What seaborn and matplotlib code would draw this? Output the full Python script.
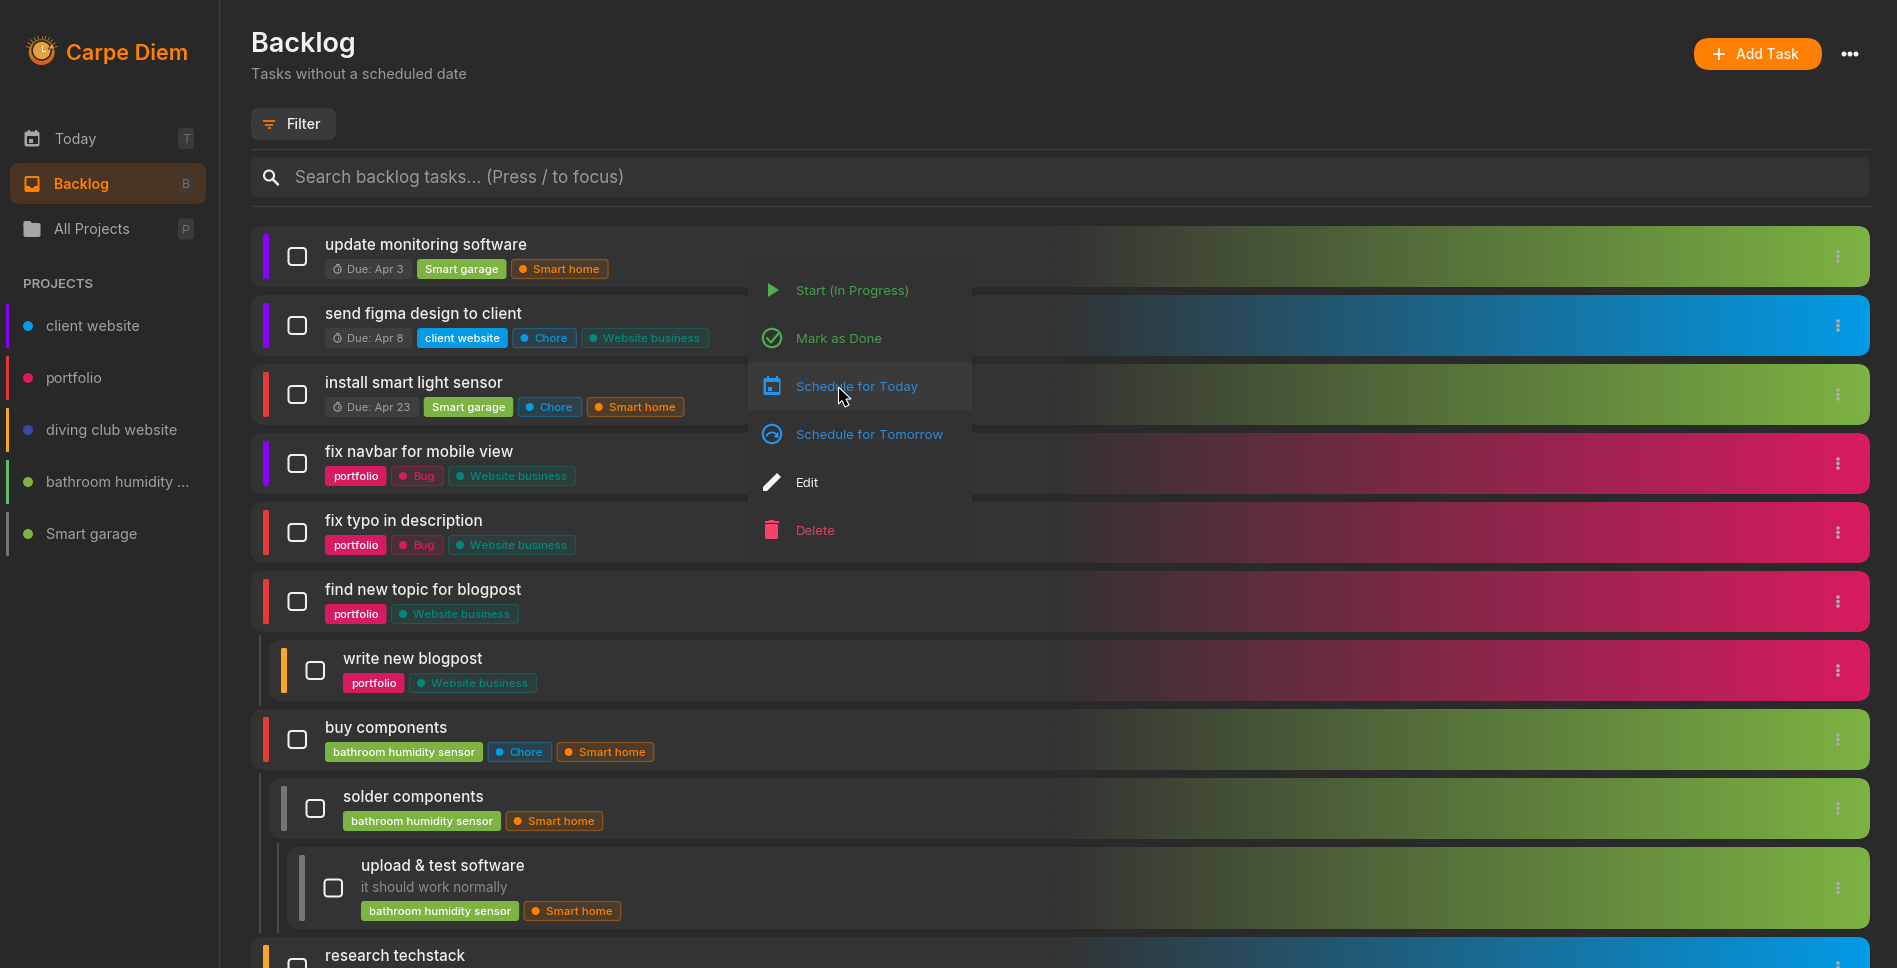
import matplotlib
matplotlib.use("Agg")
import matplotlib.pyplot as plt
import seaborn as sns
import pandas as pd
import numpy as np
from matplotlib.colors import to_rgba
from matplotlib.patches import FancyBboxPatch, Polygon, Circle, Rectangle, Arc

# ---- data ----
nav_labels = ["Today", "Backlog", "All Projects"]
nav_keys = ["T", "B", "P"]
project_names = ["client website", "portfolio", "diving club website", "bathroom humidity ...", "Smart garage"]
project_stripes = ["#8a00ff", "#e53935", "#f9a825", "#66bb6a", "#757575"]
project_dots = ["#039be5", "#d81b60", "#3949ab", "#7cb342", "#7cb342"]

task_titles = ["update monitoring software", "send figma design to client", "install smart light sensor",
               "fix navbar for mobile view", "fix typo in description", "find new topic for blogpost",
               "write new blogpost", "buy components", "solder components", "upload & test software",
               "research techstack"]
task_levels = [0, 0, 0, 0, 0, 0, 1, 0, 1, 2, 0]
task_priority = ["#8a00ff", "#8a00ff", "#e53935", "#8a00ff", "#e53935", "#e53935", "#f9a825",
                 "#e53935", "#757575", "#757575", "#f9a825"]
task_due = ["Due: Apr 3", "Due: Apr 8", "Due: Apr 23", None, None, None, None, None, None, None, None]
task_projects = ["Smart garage", "client website", "Smart garage", "portfolio", "portfolio", "portfolio",
                 "portfolio", "bathroom humidity sensor", "bathroom humidity sensor",
                 "bathroom humidity sensor", "client website"]
task_tags = [["Smart home"], ["Chore", "Website business"], ["Chore", "Smart home"],
             ["Bug", "Website business"], ["Bug", "Website business"], ["Website business"],
             ["Website business"], ["Chore", "Smart home"], ["Smart home"], ["Smart home"], []]
task_notes = [None] * 9 + ["it should work normally", None]

project_colors = {"Smart garage": "#7cb342", "bathroom humidity sensor": "#7cb342",
                  "client website": "#039be5", "portfolio": "#d81b60"}
tag_colors = {"Smart home": "#ff7f00", "Chore": "#039be5", "Bug": "#d81b60", "Website business": "#00897b"}

menu_labels = ["Start (In Progress)", "Mark as Done", "Schedule for Today", "Schedule for Tomorrow", "Edit", "Delete"]
menu_colors = ["#43a047", "#43a047", "#2a8ae0", "#2a8ae0", "#eeeeee", "#e0405f"]
menu_icons = ["#4caf50", "#4caf50", "#2196f3", "#2196f3", "#f5f5f5", "#f44366"]

PAGE = "#2a2a2a"
SIDE = "#282828"
ROW = "#333333"
LINE = "#3c3c3c"
ORANGE = "#ff7f00"

sns.set_theme(style="dark", rc={"figure.facecolor": PAGE, "axes.facecolor": PAGE})
plt.rcParams["font.family"] = ["Inter", "DejaVu Sans"]

fig = plt.figure(figsize=(18.97, 9.68), dpi=100)
ax = fig.add_axes([0, 0, 1, 1])
ax.set_xlim(0, 1897)
ax.set_ylim(968, 0)
ax.axis("off")
renderer = fig.canvas.get_renderer()
dots = []


def box(x0, y0, x1, y1, r, fc, ec="none", lw=0.0, z=2):
    p = FancyBboxPatch((x0, y0), x1 - x0, y1 - y0, boxstyle=f"round,pad=0,rounding_size={r}",
                       fc=fc, ec=ec, lw=lw, zorder=z)
    ax.add_patch(p)
    return p


def label(x, yc, s, px, color, weight="normal", ha="left", z=5):
    # same baseline a browser would use for a line centred on yc
    return ax.text(x, yc + 0.36 * px, s, fontsize=px * 0.72, color=color, fontweight=weight,
                   ha=ha, va="baseline", zorder=z)


def width(t):
    return t.get_window_extent(renderer).width


def calendar(cx, cy, c, bg, w=15, h=16, z=6):
    box(cx - w / 2, cy - h / 2 + 1, cx + w / 2, cy + h / 2, 2, c, z=z)
    ax.add_patch(Rectangle((cx - w / 2 + 2, cy - h / 2 + 5), w - 4, h - 8, fc=bg, ec="none", zorder=z))
    ax.add_patch(Rectangle((cx - w / 2 + 3, cy - h / 2 - 1), 2, 3, fc=c, ec="none", zorder=z))
    ax.add_patch(Rectangle((cx + w / 2 - 5, cy - h / 2 - 1), 2, 3, fc=c, ec="none", zorder=z))
    ax.add_patch(Rectangle((cx - w / 2 + 4, cy + 0.5), 4, 4, fc=c, ec="none", zorder=z))


# ---- sidebar ----
ax.add_patch(Rectangle((0, 0), 218, 968, fc=SIDE, ec="none", zorder=1))
ax.plot([218.5, 218.5], [0, 968], color=LINE, lw=1, zorder=2)

# logo: rays, orange disc fading down, dark ring, clock face and arrow
for a in np.radians(np.arange(200, 345, 14)):
    ax.plot([41.7 + 13 * np.cos(a), 41.7 + 16.5 * np.cos(a)],
            [52 + 13 * np.sin(a), 52 + 16.5 * np.sin(a)], color="#9a7a3c", lw=0.7, zorder=3)
disc = Circle((41.7, 52), 13, fc="none", ec="none", zorder=3)
ax.add_patch(disc)
logo_fade = sns.blend_palette(["#8a5a20", "#c97a24", "#d9581e"], as_cmap=True)
im = ax.imshow(np.linspace(0, 1, 60).reshape(-1, 1), cmap=logo_fade, extent=(28, 56, 66, 38),
               aspect="auto", zorder=3, interpolation="bilinear")
im.set_clip_path(disc)
ax.add_patch(Circle((41.7, 50.5), 9.5, fc="#e6a044", ec="#33251a", lw=1.1, zorder=4))
ax.plot([41.7, 41.7, 45], [45.5, 51, 51], color="#fff0d0", lw=0.7, zorder=4)
ax.add_patch(Polygon([(48, 49), (55, 49), (52, 43)], fc="#eea040", ec="#33251a", lw=0.5, zorder=4))
label(66, 52, "Carpe Diem", 21.6, ORANGE, weight=600)

nav_y = [138.5, 184, 229]
box(10, 163, 206, 204, 9, "#4a3524")
for name, key, y in zip(nav_labels, nav_keys, nav_y):
    c = ORANGE if name == "Backlog" else "#a6a6a6"
    label(54, y, name, 14.2, c, weight=600 if name == "Backlog" else "normal")
    badge_c = "#44382e" if name == "Backlog" else "#3a3a3a"
    box(178, y - 10.5, 194, y + 10.5, 3, badge_c)
    label(186, y, key, 12.5, "#6e6e6e", ha="center")
calendar(32, nav_y[0], "#a6a6a6", SIDE)
# inbox icon
box(24.5, nav_y[1] - 8, 39.5, nav_y[1] + 8, 2, ORANGE, z=6)
ax.add_patch(Polygon([(26.5, nav_y[1] - 6), (37.5, nav_y[1] - 6), (37.5, nav_y[1] + 2), (34.5, nav_y[1] + 2),
                      (33, nav_y[1] + 4), (31, nav_y[1] + 4), (29.5, nav_y[1] + 2), (26.5, nav_y[1] + 2)],
                     fc="#4a3524", ec="none", zorder=6))
# folder icon
box(23.5, nav_y[2] - 6, 40.5, nav_y[2] + 8, 2, "#a6a6a6", z=6)
box(23.5, nav_y[2] - 8, 31.5, nav_y[2] - 2, 2, "#a6a6a6", z=6)

label(22.5, 283, "PROJECTS", 13.3, "#a0a0a0", weight=600)
for i, (name, st, dc) in enumerate(zip(project_names, project_stripes, project_dots)):
    y = 326 + i * 52
    box(6, y - 22, 9, y + 22, 1, st)
    label(46, y, name, 14.35, "#a0a0a0")
    dots.append((28, y, dc, 10))

# ---- header ----
label(251, 42, "Backlog", 27, "#f2f2f2", weight=600)
label(251, 74, "Tasks without a scheduled date", 14.4, "#9a9a9a")
box(1694, 38, 1822, 70, 16, ORANGE)
ax.plot([1713, 1725], [54, 54], color="#f5f5f5", lw=1.3, zorder=5, solid_capstyle="butt")
ax.plot([1719, 1719], [48, 60], color="#f5f5f5", lw=1.3, zorder=5, solid_capstyle="butt")
label(1736, 54, "Add Task", 13.9, "#f5f5f5", weight=500)
for x in [1844, 1850, 1856]:
    dots.append((x, 54, "#f2f2f2", 5))

box(251, 108, 336, 140, 8, "#3a3a3a")
for wd, yy in zip([12, 8, 3], [120.5, 124.5, 128]):
    ax.plot([269 - wd / 2, 269 + wd / 2], [yy, yy], color=ORANGE, lw=1.2, zorder=5, solid_capstyle="butt")
label(287, 124, "Filter", 14.4, "#eeeeee", weight=500)
ax.plot([251, 1870], [148.5, 148.5], color=LINE, lw=1, zorder=2)
box(251, 157, 1870, 197, 8, ROW)
ax.add_patch(Circle((269, 175.5), 5, fc="none", ec="#eeeeee", lw=1.5, zorder=5))
ax.plot([272.5, 278], [179, 184.5], color="#eeeeee", lw=1.8, zorder=5)
label(295, 177, "Search backlog tasks... (Press / to focus)", 16.95, "#999999")
ax.plot([251, 1870], [205.5, 205.5], color=LINE, lw=1, zorder=2)


# ---- task rows ----
def draw_tags(x, yc, due, project, tags):
    h = 10
    if due:
        t = label(x + 22, yc, due, 11.2, "#a0a0a0")
        x1 = x + 22 + width(t) + 9
        box(x, yc - h, x1, yc + h, 4, "#3e3e3e", z=3)
        ax.add_patch(Circle((x + 12.5, yc + 0.5), 3.6, fc="none", ec="#999999", lw=0.9, zorder=5))
        ax.plot([x + 12.5, x + 12.5], [yc - 1.5, yc + 0.5], color="#999999", lw=0.8, zorder=5)
        ax.plot([x + 11, x + 14], [yc - 4.8, yc - 4.8], color="#999999", lw=0.8, zorder=5)
        x = x1 + 4.5
    t = label(x + 8, yc, project, 11.35, "#ffffff", weight=500)
    x1 = x + 8 + width(t) + 8
    box(x, yc - h, x1, yc + h, 3, project_colors[project], z=3)
    x = x1 + 4.5
    for tag in tags:
        c = tag_colors[tag]
        t = label(x + 22, yc, tag, 11.45, c, weight=500)
        x1 = x + 22 + width(t) + 9
        box(x + 0.5, yc - h + 0.5, x1 - 0.5, yc + h - 0.5, 3, to_rgba(c, 0.12), ec=to_rgba(c, 0.4), lw=0.9, z=3)
        dots.append((x + 12, yc, c, 8))
        x = x1 + 4.5


top = 226
for i, title in enumerate(task_titles):
    lvl = task_levels[i]
    note = task_notes[i]
    hgt = 82 if note else 61
    left = 251 + 18 * lvl
    mid = top + hgt / 2
    base = box(left, top, 1870, top + hgt, 13, ROW)
    # coloured fade over the right half of the row
    fade = sns.blend_palette([ROW, project_colors[task_projects[i]]], as_cmap=True)
    im = ax.imshow(np.linspace(0, 1, 400).reshape(1, -1), cmap=fade, extent=(1050, 1870, top + hgt, top),
                   aspect="auto", zorder=2.5, interpolation="bilinear")
    im.set_clip_path(base)
    box(left + 12, top + 8, left + 18, top + hgt - 8, 1.5, task_priority[i], z=4)
    box(left + 37.5, mid - 8.5, left + 55, mid + 8.5, 3.5, "none", ec="#f0f0f0", lw=1.45, z=4)
    label(left + 74, top + 19, title, 15.2, "#eeeeee", weight=500)
    tag_y = top + 43
    if note:
        label(left + 74, top + 40, note, 13.45, "#8a8a8a")
        tag_y = top + 64
    # the last row runs off the bottom of the window, its tags are not visible
    if tag_y + 10 < 968:
        draw_tags(left + 74, tag_y, task_due[i], task_projects[i], task_tags[i])
    for dy in [-4.5, 0, 4.5]:
        dots.append((1838, mid + dy, "#adadad", 3.6))
    top += hgt + 8

# thread lines on the left of the nested rows
ax.plot([260, 260], [635.5, 705], color="#484848", lw=1.5, zorder=2)
ax.plot([260, 260], [774, 933], color="#484848", lw=1.5, zorder=2)
ax.plot([278, 278], [843, 933], color="#484848", lw=1.5, zorder=2)

# ---- popup menu ----
box(747, 258, 973, 564, 5, to_rgba("#000000", 0.05), z=6)
box(748, 258, 972, 562, 4, "#323232", z=7)
ax.add_patch(Rectangle((748, 362), 224, 48, fc="#3a3a3a", ec="none", zorder=7))
menu_y = [290, 338, 386, 434, 482, 530]
for name, c, y in zip(menu_labels, menu_colors, menu_y):
    label(796, y, name, 13.15, c, z=9)
ax.add_patch(Polygon([(768, 283), (768, 297), (779, 290)], fc=menu_icons[0], ec="none", zorder=9))
ax.add_patch(Circle((772, 338), 9.2, fc="none", ec=menu_icons[1], lw=1.5, zorder=9))
ax.plot([767, 771, 778], [338, 342.5, 334], color=menu_icons[1], lw=1.5, zorder=9)
calendar(772, 386, menu_icons[2], "#3a3a3a", w=17, h=18, z=9)
ax.add_patch(Circle((772, 434), 9.2, fc="none", ec=menu_icons[3], lw=1.5, zorder=9))
ax.add_patch(Arc((772, 438), 12, 11, theta1=195, theta2=345, ec=menu_icons[3], lw=1.3, zorder=9))
ax.add_patch(Polygon([(778.5, 432), (778.5, 438), (773.5, 437)], fc=menu_icons[3], ec="none", zorder=9))
ax.add_patch(Polygon([(763, 491), (763, 487), (775, 475), (777, 473), (781, 477), (779, 479), (767, 491)],
                     fc=menu_icons[4], ec="none", zorder=9))
box(765, 524, 778, 539, 1.5, menu_icons[5], z=9)
ax.add_patch(Rectangle((764.5, 521), 14, 1.6, fc=menu_icons[5], ec="none", zorder=9))
ax.add_patch(Rectangle((769, 519.5), 5, 1.6, fc=menu_icons[5], ec="none", zorder=9))

# mouse pointer
ax.add_patch(Polygon([(838.5, 387), (838.5, 404), (842, 400.5), (845, 407), (849, 405), (846, 399), (851, 399)],
                     fc="#000000", ec="#ffffff", lw=0.8, zorder=10))

# ---- all the round dots go through seaborn ----
dot_df = pd.DataFrame(dots, columns=["x", "y", "color", "d"])
for d, grp in dot_df.groupby("d"):
    sns.scatterplot(data=grp, x="x", y="y", hue="color", palette={c: c for c in grp["color"].unique()},
                    s=(d * 0.72) ** 2, linewidth=0, legend=False, ax=ax, zorder=6)

ax.set_xlim(0, 1897)
ax.set_ylim(968, 0)
fig.savefig("out.png", dpi=100, facecolor=PAGE)
